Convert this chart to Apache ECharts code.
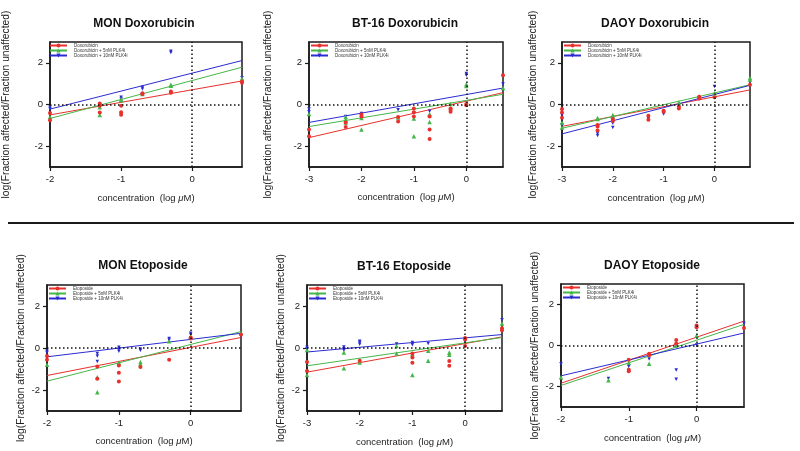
<!DOCTYPE html>
<html>
<head>
<meta charset="utf-8">
<title>log(Fa/Fu) vs concentration</title>
<script src="https://cdn.jsdelivr.net/npm/echarts@6/dist/echarts.min.js"></script>
<style>
    html, body { margin: 0; padding: 0; background: #fff; }
    #chart { width: 800px; height: 451px; }
</style>
</head>
<body>
<div id="chart"></div>
<script>
// x = log10(concentration in uM), y = log(Fa/Fu); three replicates per dose where visible
const monDoxRed = [[-2, -0.41], [-2, -0.76], [-1.3, -0.38], [-1.3, 0.05], [-1.3, -0.06], [-1, -0.37], [-1, -0.49], [-1, -0.06], [-0.7, 0.5], [-0.7, 0.54], [-0.3, 0.62], [-0.3, 0.56], [0.7, 1.05], [0.7, 1.1]];
const monDoxGreen = [[-2, -0.6], [-1.3, -0.5], [-1.3, -0.13], [-1, 0.2], [-1, 0.25], [-0.7, 0.5], [-0.3, 0.95], [-0.3, 0.9], [0.7, 1.25]];
const monDoxBlue = [[-2, -0.13], [-2, -0.22], [-1, 0.35], [-1, 0.27], [-0.7, 0.83], [-0.7, 0.75], [-0.3, 2.56], [-0.3, 2.5], [0.7, 1.29]];

const bt16DoxRed = [[-3, -1.2], [-3, -1.52], [-2.3, -0.86], [-2.3, -1.08], [-2, -0.48], [-2, -0.57], [-1.3, -0.6], [-1.3, -0.81], [-1, -0.19], [-1, -0.37], [-1, -0.57], [-0.7, -0.57], [-0.7, -1.2], [-0.7, -1.65], [-0.3, -0.19], [-0.3, -0.25], [-0.3, -0.35], [0, 0.03], [0, -0.03], [0.7, 1.4]];
const bt16DoxGreen = [[-3, -0.46], [-2.3, -0.6], [-2.3, -0.73], [-2.3, -0.86], [-2, -1.2], [-2, -0.65], [-1.3, -0.62], [-1, -0.67], [-1, -1.52], [-0.7, -0.46], [-0.7, -0.84], [-0.3, 0.03], [0, 0.97], [0, 0.89], [0.7, 0.79]];
const bt16DoxBlue = [[-3, -0.22], [-3, -0.35], [-2.3, -0.57], [-2, -0.43], [-1.3, -0.25], [-1, -0.41], [-0.7, -0.32], [0, 1.49], [0, 1.41], [0.7, 0.98]];

const daoyDoxRed = [[-3, -0.22], [-3, -0.38], [-3, -0.63], [-2.3, -0.98], [-2.3, -1.05], [-2.3, -1.25], [-2, -0.7], [-2, -0.79], [-1.3, -0.54], [-1.3, -0.73], [-1, -0.3], [-1, -0.35], [-0.7, -0.1], [-0.7, -0.19], [-0.3, 0.37], [-0.3, 0.29], [0, 0.35], [0.7, 0.95]];
const daoyDoxGreen = [[-3, -0.86], [-3, -1.1], [-2.3, -0.65], [-2.3, -0.7], [-2, -0.5], [-2, -0.59], [-0.7, 0.1], [-0.3, 0.38], [0, 0.54], [0.7, 1.27], [0.7, 1.2]];
const daoyDoxBlue = [[-3, -0.5], [-3, -0.98], [-2.3, -1.49], [-2.3, -1.38], [-2, -1.1], [-2, -0.9], [-1.3, -0.67], [-1, -0.46], [0, 0.86]];

const monEtoRed = [[-2, -0.38], [-2, -0.56], [-1.3, -0.88], [-1.3, -1.47], [-1, -0.83], [-1, -1.18], [-1, -1.6], [-0.7, -0.9], [-0.3, -0.56], [0, 0.5], [0, 0.45], [0.7, 0.64]];
const monEtoGreen = [[-2, -0.8], [-1.3, -2.11], [-1.3, -1.39], [-1, -0.7], [-0.7, -0.67], [-0.7, -0.77], [-0.3, 0.32], [0, 0.53], [0.7, 0.7]];
const monEtoBlue = [[-2, -0.16], [-2, -0.22], [-1.3, -0.26], [-1.3, -0.38], [-1.3, -0.64], [-1, 0.03], [-1, -0.06], [-1, -0.16], [-0.7, -0.06], [-0.7, -0.11], [-0.3, 0.45], [-0.3, 0.38], [0, 0.7], [0, 0.64], [0.7, 0.58]];

const bt16EtoRed = [[-3, -0.67], [-3, -1.09], [-2, -0.61], [-1, -0.26], [-1, -0.45], [-1, -0.7], [-0.3, -0.62], [-0.3, -0.85], [0, 0.48], [0, 0.4], [0, 0.1], [0.7, 0.94], [0.7, 0.85]];
const bt16EtoGreen = [[-3, -1.28], [-3, -0.1], [-2.3, -0.22], [-2.3, -0.96], [-2, -0.69], [-1.3, 0.1], [-1.3, -0.26], [-1, -1.28], [-1, -0.29], [-0.7, -0.61], [-0.7, -0.13], [-0.3, -0.22], [-0.3, -0.32], [0.7, 1.17]];
const bt16EtoBlue = [[-3, 0.03], [-3, -0.03], [-2.3, 0.05], [-2.3, -0.03], [-2.3, -0.11], [-2, 0.32], [-2, 0.26], [-2, 0.18], [-1.3, 0.19], [-1, 0.26], [-1, 0.16], [-0.7, 0.21], [0, 0.32], [0.7, 1.34]];

const daoyEtoRed = [[-1, -0.69], [-1, -1.18], [-1, -1.26], [-0.7, -0.4], [-0.7, -0.48], [-0.3, 0.27], [-0.3, 0.1], [0, 0.97], [0, 0.89], [0.7, 0.85]];
const daoyEtoGreen = [[-2, -1.55], [-1.3, -1.69], [-1, -0.84], [-0.7, -0.89], [-0.3, 0], [0, 0.47]];
const daoyEtoBlue = [[-2, -0.89], [-1.3, -1.61], [-1, -1.03], [-0.7, -0.66], [-0.3, -1.19], [-0.3, -1.65], [0, 0.03], [0.7, 1.08]];

// linear fits: [y at left edge, y at right edge] for red, green, blue
const monDoxFit = [[-0.5, 1.13], [-0.67, 1.79], [-0.22, 2.11]];
const bt16DoxFit = [[-1.59, 0.57], [-1.06, 0.49], [-0.86, 0.79]];
const daoyDoxFit = [[-1.05, 0.7], [-1.14, 0.95], [-1.41, 0.92]];
const monEtoFit = [[-1.31, 0.5], [-1.58, 0.78], [-0.42, 0.7]];
const bt16EtoFit = [[-1.15, 0.53], [-0.85, 0.5], [-0.19, 0.64]];
const daoyEtoFit = [[-1.84, 1.19], [-1.95, 1.03], [-1.48, 0.61]];

const xMins = [-2, -3, -3, -2, -3, -2];
const xMax = 0.7;
const xTicksFrom2 = [-2, -1, 0];
const xTicksFrom3 = [-3, -2, -1, 0];
const yTicks = [-2, 0, 2];
const titles = ['MON Doxorubicin', 'BT-16 Doxorubicin', 'DAOY Doxorubicin', 'MON Etoposide', 'BT-16 Etoposide', 'DAOY Etoposide'];
const drugs = ['Doxorubicin', 'Etoposide'];

const panels = [
    { pts: [monDoxRed, monDoxGreen, monDoxBlue], fit: monDoxFit },
    { pts: [bt16DoxRed, bt16DoxGreen, bt16DoxBlue], fit: bt16DoxFit },
    { pts: [daoyDoxRed, daoyDoxGreen, daoyDoxBlue], fit: daoyDoxFit },
    { pts: [monEtoRed, monEtoGreen, monEtoBlue], fit: monEtoFit },
    { pts: [bt16EtoRed, bt16EtoGreen, bt16EtoBlue], fit: bt16EtoFit },
    { pts: [daoyEtoRed, daoyEtoGreen, daoyEtoBlue], fit: daoyEtoFit }
];

// layout
const boxes = [
    { left: 48, top: 42, width: 194, height: 125, yGap: 39, xGap: 26, titleX: 144, titleY: 24 },
    { left: 309, top: 42, width: 194, height: 125, yGap: 36, xGap: 25, titleX: 405, titleY: 24 },
    { left: 562, top: 42, width: 188, height: 125, yGap: 24, xGap: 26, titleX: 655, titleY: 24 },
    { left: 47, top: 285, width: 194, height: 126, yGap: 21, xGap: 25, titleX: 143, titleY: 266 },
    { left: 307, top: 285, width: 195, height: 126, yGap: 21, xGap: 26, titleX: 404, titleY: 267 },
    { left: 561, top: 284, width: 183, height: 123, yGap: 21, xGap: 26, titleX: 652, titleY: 266 }
];
const fontFamily = '"Liberation Sans", Arial, Helvetica, sans-serif';
const colors = ['#e8302c', '#45b649', '#2b2bd2'];
const symbols = ['circle', 'triangle', 'path://M0,0L10,0L5,9Z'];
const symbolSizes = [4, 4.5, 3.5];
const ink = '#1a1a1a';

const grids = [], xAxes = [], yAxes = [], series = [], legends = [], graphics = [];

panels.forEach((p, i) => {
    const b = boxes[i];
    const drug = drugs[i < 3 ? 0 : 1];
    const names = [drug, drug + ' + 5nM PLK4i', drug + ' + 10nM PLK4i'];
    const xTicks = xMins[i] === -2 ? xTicksFrom2 : xTicksFrom3;

    grids.push({
        left: b.left, top: b.top, width: b.width, height: b.height,
        show: true, borderColor: ink, borderWidth: 1.5
    });
    xAxes.push({
        gridIndex: i, type: 'value', min: xMins[i], max: xMax,
        name: 'concentration  (log {i|μ}M)', nameLocation: 'middle', nameGap: b.xGap,
        nameTextStyle: { fontFamily: fontFamily, fontSize: 9.5, color: '#222', rich: { i: { fontStyle: 'italic', fontFamily: fontFamily, fontSize: 9.5, color: '#222' } } },
        axisLine: { show: true, onZero: false, lineStyle: { color: ink, width: 1.5 } },
        axisTick: { show: true, customValues: xTicks, length: 4, lineStyle: { color: ink, width: 1.2 } },
        axisLabel: { customValues: xTicks, margin: 7, fontFamily: fontFamily, fontSize: 9.5, color: '#222' },
        splitLine: { show: false }
    });
    yAxes.push({
        gridIndex: i, type: 'value', min: -3, max: 3,
        name: 'log(Fraction affected/Fraction unaffected)', nameLocation: 'middle', nameGap: b.yGap, nameRotate: 90,
        nameTextStyle: { fontFamily: fontFamily, fontSize: 10.3, color: '#222' },
        axisLine: { show: true, onZero: false, lineStyle: { color: ink, width: 1.5 } },
        axisTick: { show: true, customValues: yTicks, length: 4, lineStyle: { color: ink, width: 1.2 } },
        axisLabel: { customValues: yTicks, margin: 7, fontFamily: fontFamily, fontSize: 9.5, color: '#222' },
        splitLine: { show: false }
    });

    // fit lines first so the legend picks up a line + marker icon
    for (let k = 0; k < 3; k++) {
        const s = {
            name: names[k], type: 'line', xAxisIndex: i, yAxisIndex: i,
            data: [[xMins[i], p.fit[k][0]], [xMax, p.fit[k][1]]],
            showSymbol: false, symbol: symbols[k], symbolSize: symbolSizes[k],
            lineStyle: { color: colors[k], width: 1 }, itemStyle: { color: colors[k] },
            silent: true, z: 2
        };
        if (k === 0) {
            s.markLine = {
                silent: true, symbol: 'none', label: { show: false },
                lineStyle: { color: '#111', width: 1.5, type: [1.5, 2.5] },
                data: [{ xAxis: 0 }, { yAxis: 0 }]
            };
        }
        series.push(s);
    }
    for (let k = 2; k >= 0; k--) {
        series.push({
            name: names[k], type: 'scatter', xAxisIndex: i, yAxisIndex: i,
            data: p.pts[k], symbol: symbols[k], symbolSize: symbolSizes[k],
            itemStyle: { color: colors[k], opacity: 1 }, z: 3
        });
    }

    legends.push({
        data: names, orient: 'vertical', left: b.left + 1, top: b.top + 1,
        itemWidth: 17, itemHeight: 5, itemGap: 0, padding: 0, selectedMode: false,
        textStyle: { fontFamily: fontFamily, fontSize: 4.5, color: '#333', padding: [0, 0, 0, 2] }
    });

    graphics.push({
        type: 'text',
        style: {
            text: titles[i], x: b.titleX, y: b.titleY, align: 'center', verticalAlign: 'middle',
            font: 'bold 12px ' + fontFamily, fill: '#111'
        }
    });
});

// separator between the doxorubicin and etoposide rows
graphics.push({
    type: 'line',
    shape: { x1: 8, y1: 223, x2: 794, y2: 223 },
    style: { stroke: '#1a1a1a', lineWidth: 1.8 }
});

const chart = echarts.init(document.getElementById('chart'), null, { renderer: 'canvas' });
chart.setOption({
    animation: false,
    backgroundColor: '#fff',
    grid: grids,
    xAxis: xAxes,
    yAxis: yAxes,
    legend: legends,
    series: series,
    graphic: graphics
});
</script>
</body>
</html>
